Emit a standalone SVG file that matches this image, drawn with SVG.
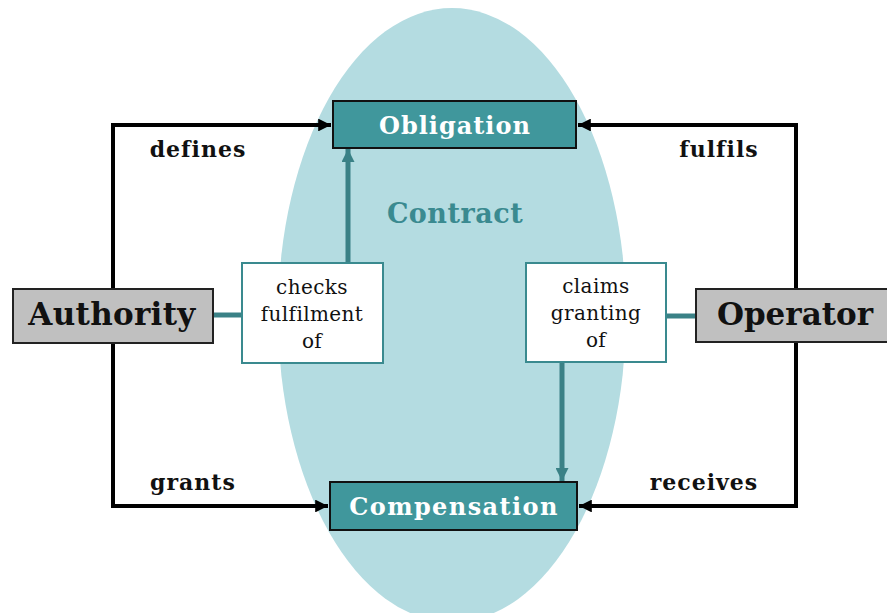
<svg xmlns="http://www.w3.org/2000/svg" width="887" height="613" viewBox="0 0 887 613">
<defs>
<style>
.bold{font-family:"DejaVu Serif","Liberation Serif",serif;font-weight:bold}
.norm{font-family:"DejaVu Serif","Liberation Serif",serif;font-size:20px;letter-spacing:0.4px;fill:#111}
.lbl{font-size:22px;letter-spacing:1px;fill:#111}
.teal{fill:#40979c;stroke:#111;stroke-width:2}
.grey{fill:#c0c0c0;stroke:#222;stroke-width:2}
.wbox{fill:#fff;stroke:#3a8a8f;stroke-width:2}
.blk{fill:none;stroke:#000;stroke-width:4}
.tl{fill:none;stroke:#3a8186;stroke-width:5}
</style>
<marker id="ab" viewBox="0 0 10 10" refX="10" refY="5" markerWidth="3.2" markerHeight="3.2" orient="auto" markerUnits="strokeWidth"><path d="M0,0 L10,5 L0,10 z" fill="#000"/></marker>
<marker id="at" viewBox="0 0 10 10" refX="10" refY="5" markerWidth="2.6" markerHeight="2.6" orient="auto" markerUnits="strokeWidth"><path d="M0,0 L10,5 L0,10 z" fill="#3a8186"/></marker>
</defs>
<rect width="887" height="613" fill="#fff"/>
<g id="contract">
<ellipse cx="452" cy="315" rx="174" ry="307" fill="#b4dce1"/>
<text class="bold" x="455" y="223" font-size="27" letter-spacing="0.5" fill="#3a8a90" text-anchor="middle">Contract</text>
</g>
<g id="connectors">
<polyline class="blk" points="213,316 113,316 113,125 331,125" marker-end="url(#ab)"/>
<polyline class="blk" points="113,316 113,506 328,506" marker-end="url(#ab)"/>
<polyline class="blk" points="800,316 796,316 796,125 578,125" marker-end="url(#ab)"/>
<polyline class="blk" points="796,316 796,506 579,506" marker-end="url(#ab)"/>
<line class="tl" x1="213" y1="315" x2="242" y2="315"/>
<line class="tl" x1="666" y1="316" x2="696" y2="316"/>
<line class="tl" x1="348" y1="263" x2="348" y2="149" marker-end="url(#at)"/>
<line class="tl" x1="562" y1="362" x2="562" y2="481" marker-end="url(#at)"/>
<text class="bold lbl" x="198" y="157" text-anchor="middle">defines</text>
<text class="bold lbl" x="719" y="157" text-anchor="middle">fulfils</text>
<text class="bold lbl" x="193" y="490" text-anchor="middle">grants</text>
<text class="bold lbl" x="704" y="490" text-anchor="middle">receives</text>
</g>
<g id="obligation">
<rect class="teal" x="333" y="101" width="243" height="47"/>
<text class="bold" x="455" y="134" font-size="24" letter-spacing="1" fill="#fff" text-anchor="middle">Obligation</text>
</g>
<g id="compensation">
<rect class="teal" x="330" y="482" width="247" height="48"/>
<text class="bold" x="454" y="515" font-size="24" letter-spacing="1.4" fill="#fff" text-anchor="middle">Compensation</text>
</g>
<g id="authority">
<rect class="grey" x="13" y="289" width="200" height="54"/>
<text class="bold" x="112" y="325" font-size="31" letter-spacing="0.3" fill="#111" text-anchor="middle">Authority</text>
</g>
<g id="operator">
<rect class="grey" x="696" y="289" width="195" height="53"/>
<text class="bold" x="795" y="325" font-size="31" fill="#111" text-anchor="middle">Operator</text>
</g>
<g id="checks">
<rect class="wbox" x="242" y="263" width="141" height="100"/>
<text class="norm" text-anchor="middle"><tspan x="312" y="294">checks</tspan><tspan x="312" y="321">fulfilment</tspan><tspan x="312" y="348">of</tspan></text>
</g>
<g id="claims">
<rect class="wbox" x="526" y="263" width="140" height="99"/>
<text class="norm" text-anchor="middle"><tspan x="596" y="293">claims</tspan><tspan x="596" y="320">granting</tspan><tspan x="596" y="347">of</tspan></text>
</g>
</svg>
